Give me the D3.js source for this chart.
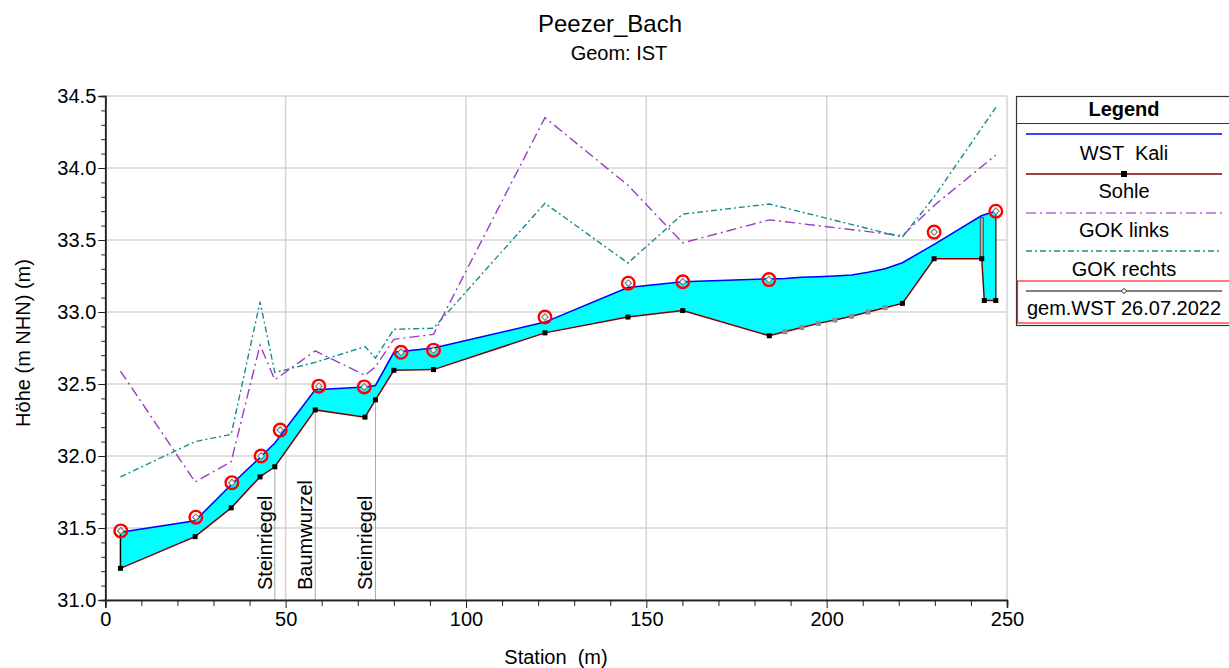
<!DOCTYPE html>
<html><head><meta charset="utf-8">
<script src="https://cdn.jsdelivr.net/npm/d3@7"></script>
<style>
body{margin:0;background:#fff}
svg{display:block}
text{font-family:"Liberation Sans",Arial,sans-serif;fill:#000}
</style>
</head><body>
<svg id="c" width="1229" height="668"></svg>
<script>
// ---- data ----
const stations = [4.2,24.9,34.9,42.9,47.0,58.2,72.0,74.9,80.0,91.0,121.9,144.9,160.1,184.1,188.4,193.1,197.7,202.3,206.9,211.5,216.2,221.0,229.8,243.0,243.7,246.9];
const sohle    = [31.22,31.44,31.64,31.855,31.925,32.32,32.27,32.39,32.595,32.60,32.855,32.965,33.01,32.835,32.863,32.893,32.921,32.944,32.970,33.0,33.03,33.06,33.37,33.37,33.08,33.08];
const wstKali  = [31.47,31.55,31.80,31.99,32.09,32.46,32.48,32.49,32.72,32.75,32.93,33.17,33.21,33.23,33.232,33.241,33.245,33.25,33.257,33.276,33.30,33.342,33.47,33.67,33.675,33.70];
const sectionKind = ["m","m","m","m","m","m","m","m","m","m","m","m","m","m","i","i","i","i","i","i","i","m","m","m","m","m"];

const gokStations = [4.2,24.9,34.9,42.9,47.0,58.2,72.0,74.9,80.0,91.0,121.9,144.9,160.1,184.1,221.0,229.8,246.9];
const gokLinks    = [32.59,31.82,31.96,32.77,32.53,32.73,32.56,32.62,32.81,32.845,34.35,33.88,33.48,33.64,33.53,33.74,34.09];
const gokRechts   = [31.855,32.10,32.15,33.07,32.58,32.65,32.76,32.68,32.88,32.887,33.755,33.34,33.68,33.75,33.52,33.80,34.42];

const measStations = [4.3,25.1,35.1,43.2,48.5,59.2,71.8,82.0,91.0,121.9,145.0,160.1,184.0,229.8,246.9];
const measWst      = [31.48,31.575,31.815,32.0,32.18,32.485,32.48,32.72,32.735,32.965,33.20,33.21,33.225,33.555,33.70];

const structStation = 243.0, structBottom = 33.37, structTop = 33.655;

const labelStations = [47.0,58.2,74.9];
const labelTexts = ["Steinriegel","Baumwurzel","Steinriegel"];

const yMajor = [31.0,31.5,32.0,32.5,33.0,33.5,34.0,34.5];
const xMajor = [0,50,100,150,200,250];

// ---- drawing ----
const svg = d3.select("#c");
const x = d3.scaleLinear([0,250],[105.3,1007]);
const y = d3.scaleLinear([31,34.5],[600,96]);

// title
svg.append("text").attr("x",610).attr("y",32).attr("text-anchor","middle").attr("font-size",24).text("Peezer_Bach");
svg.append("text").attr("x",619).attr("y",60).attr("text-anchor","middle").attr("font-size",20).text("Geom: IST");

// grid
const grid = svg.append("g").attr("stroke","#d4d4d4").attr("stroke-width",1.5);
grid.selectAll(".gy").data(yMajor).join("line").attr("x1",x(0)).attr("x2",x(250)).attr("y1",d=>y(d)).attr("y2",d=>y(d));
grid.selectAll(".gx").data(xMajor).join("line").attr("y1",y(31)).attr("y2",y(34.5)).attr("x1",d=>x(d)).attr("x2",d=>x(d));

// label guide lines
const sohleAt = s => sohle[stations.indexOf(s)];
svg.append("g").selectAll("line").data(labelStations).join("line")
  .attr("x1",d=>x(d)).attr("x2",d=>x(d)).attr("y1",d=>y(sohleAt(d))).attr("y2",y(31))
  .attr("stroke","#a8a8a8").attr("stroke-width",1);

// water area
const idx = d3.range(stations.length);
svg.append("path").datum(idx)
  .attr("d",d3.area().x(i=>x(stations[i])).y0(i=>y(sohle[i])).y1(i=>y(wstKali[i])))
  .attr("fill","#00ffff");

// edge lines
const last = stations.length-1;
svg.append("line").attr("x1",x(stations[0])).attr("x2",x(stations[0])).attr("y1",y(wstKali[0])).attr("y2",y(sohle[0])).attr("stroke","#000").attr("stroke-width",1.5);
svg.append("line").attr("x1",x(stations[last])).attr("x2",x(stations[last])).attr("y1",y(wstKali[last])).attr("y2",y(sohle[last])).attr("stroke","#333").attr("stroke-width",1.5);

// GOK lines
const gIdx = d3.range(gokStations.length);
svg.append("path").datum(gIdx).attr("d",d3.line().x(i=>x(gokStations[i])).y(i=>y(gokLinks[i])))
  .attr("fill","none").attr("stroke","#9b3cc4").attr("stroke-width",1.4).attr("stroke-dasharray","10,4,2,4");
svg.append("path").datum(gIdx).attr("d",d3.line().x(i=>x(gokStations[i])).y(i=>y(gokRechts[i])))
  .attr("fill","none").attr("stroke","#168c8c").attr("stroke-width",1.4).attr("stroke-dasharray","6,3,2,3");

// WST Kali
svg.append("path").datum(idx).attr("d",d3.line().x(i=>x(stations[i])).y(i=>y(wstKali[i])))
  .attr("fill","none").attr("stroke","#0000ff").attr("stroke-width",1.5);

// structure
svg.append("rect").attr("x",x(structStation)-1.5).attr("width",3).attr("y",y(structTop)).attr("height",y(structBottom)-y(structTop))
  .attr("fill","#b0b0b0").attr("stroke","#333").attr("stroke-width",0.8);

// Sohle
svg.append("path").datum(idx).attr("d",d3.line().x(i=>x(stations[i])).y(i=>y(sohle[i])))
  .attr("fill","none").attr("stroke","#800000").attr("stroke-width",1.5);
svg.append("g").selectAll("rect").data(idx).join("rect")
  .attr("x",i=>x(stations[i])-2.5).attr("y",i=>y(sohle[i])-2.5).attr("width",5).attr("height",5)
  .attr("fill",i=>sectionKind[i]==="i"?"#8c8c8c":"#000");

// measured WST
const diamond = d3.symbol(d3.symbolSquare,22);
const mg = svg.append("g").selectAll("g").data(d3.range(measStations.length)).join("g")
  .attr("transform",i=>`translate(${x(measStations[i])},${y(measWst[i])})`);
mg.append("circle").attr("r",6.3).attr("fill","none").attr("stroke","#ff0000").attr("stroke-width",2.4);
mg.append("path").attr("d",diamond()).attr("transform","rotate(45)").attr("fill","#f4f4f4").attr("stroke","#707070").attr("stroke-width",1);

// labels
svg.append("g").selectAll("text").data(d3.range(labelStations.length)).join("text")
  .attr("transform",i=>`translate(${x(labelStations[i])-3},590) rotate(-90)`)
  .attr("font-size",20).text(i=>labelTexts[i]);

// axes
const axL = svg.append("g").attr("transform",`translate(${x(0)},0)`)
  .call(d3.axisLeft(y).tickValues(yMajor).tickFormat(d3.format(".1f")).tickSize(7).tickPadding(2));
svg.append("g").attr("transform",`translate(${x(0)},0)`)
  .call(d3.axisLeft(y).tickValues(d3.range(310,346,1).map(v=>v/10).filter(v=>Math.round(v*10)%5!==0)).tickFormat("").tickSize(4));
const axB = svg.append("g").attr("transform",`translate(0,${y(31)})`)
  .call(d3.axisBottom(x).tickValues(xMajor).tickFormat(d3.format("d")).tickSize(8).tickPadding(4));
svg.append("g").attr("transform",`translate(0,${y(31)})`)
  .call(d3.axisBottom(x).tickValues(d3.range(10,250,10).filter(v=>v%50!==0)).tickFormat("").tickSize(6));
svg.selectAll(".domain").attr("stroke","#222").attr("stroke-width",1.5);
svg.selectAll(".tick line").attr("stroke","#222");
svg.selectAll(".tick text").attr("font-size",20).attr("font-family","'Liberation Sans',Arial,sans-serif").attr("fill","#000");

// axis titles
svg.append("text").attr("x",556).attr("y",664).attr("text-anchor","middle").attr("font-size",20).style("white-space","pre").text("Station  (m)");
svg.append("text").attr("transform","translate(30,343) rotate(-90)").attr("text-anchor","middle").attr("font-size",20).text("Höhe (m NHN) (m)");

// legend
const L = svg.append("g");
L.append("rect").attr("x",1016.5).attr("y",96.5).attr("width",222).attr("height",229).attr("fill","#fff").attr("stroke","#333").attr("stroke-width",1.2);
L.append("line").attr("x1",1016).attr("x2",1229).attr("y1",123.5).attr("y2",123.5).attr("stroke","#333").attr("stroke-width",1.2);
L.append("text").attr("x",1124).attr("y",116).attr("text-anchor","middle").attr("font-size",20).attr("font-weight","bold").text("Legend");
const lx1 = 1026, lx2 = 1222, lc = 1124;
const legItems = [
  {y:134, text:"WST  Kali", ty:160, stroke:"#0000ff", dash:null},
  {y:174, text:"Sohle", ty:198, stroke:"#800000", dash:null},
  {y:213, text:"GOK links", ty:237, stroke:"#b06ad0", dash:"10,4,2,4"},
  {y:251, text:"GOK rechts", ty:276, stroke:"#168c8c", dash:"6,3,2,3"},
  {y:291, text:"gem.WST 26.07.2022", ty:315, stroke:"#555", dash:null}
];
L.append("rect").attr("x",1017.5).attr("y",281).attr("width",220).attr("height",42).attr("fill","none").attr("stroke","#ff2020").attr("stroke-width",1.2);
legItems.forEach(d=>{
  L.append("line").attr("x1",lx1).attr("x2",lx2).attr("y1",d.y).attr("y2",d.y).attr("stroke",d.stroke).attr("stroke-width",1.5).attr("stroke-dasharray",d.dash);
  L.append("text").attr("x",lc).attr("y",d.ty).attr("text-anchor","middle").attr("font-size",20).style("white-space","pre").text(d.text);
});
L.append("rect").attr("x",lc-3).attr("y",174-3).attr("width",6).attr("height",6).attr("fill","#000");
L.append("path").attr("d",d3.symbol(d3.symbolSquare,14)()).attr("transform",`translate(${lc},291) rotate(45)`).attr("fill","#fff").attr("stroke","#555");
</script>
</body></html>
